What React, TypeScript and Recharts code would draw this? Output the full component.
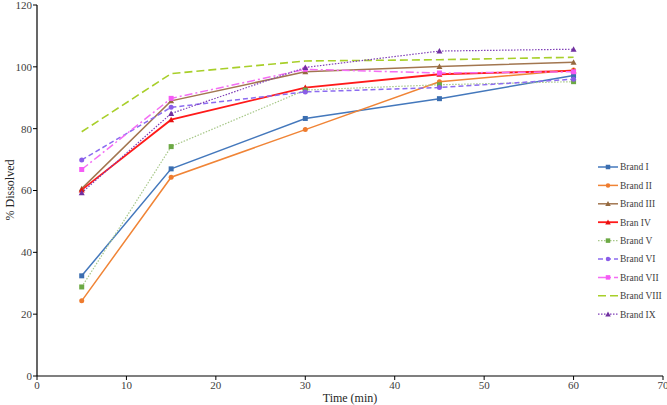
import React from 'react';
import { LineChart, Line, XAxis, YAxis, Legend, Label } from 'recharts';

const times = [5, 15, 30, 45, 60];
const brandI = [32.4, 67.0, 83.3, 89.7, 97.2];
const brandII = [24.3, 64.3, 79.7, 95.2, 99.0];
const brandIII = [60.6, 89.0, 98.4, 100.1, 101.5];
const brandIV = [60.2, 82.9, 93.3, 97.6, 98.7];
const brandV = [28.8, 74.2, 92.5, 94.2, 95.2];
const brandVI = [69.9, 86.9, 91.9, 93.3, 96.0];
const brandVII = [66.8, 89.8, 99.2, 98.0, 98.4];
const brandVIII = [79.0, 97.8, 101.9, 102.3, 103.1];
const brandIX = [59.3, 84.9, 99.8, 105.1, 105.7];

const xTicks = [0, 10, 20, 30, 40, 50, 60, 70];
const yTicks = [0, 20, 40, 60, 80, 100, 120];

const FONT = '"Liberation Serif", "Times New Roman", serif';

type Shape = 'square' | 'circle' | 'triangle' | 'none';
interface Series {
  key: string;
  name: string;
  values: number[];
  color: string;
  markerColor: string;
  dash?: string;
  width: number;
  marker: Shape;
}

const series: Series[] = [
  { key: 'I', name: 'Brand I', values: brandI, color: '#4478BC', markerColor: '#3B6EB0', width: 1.5, marker: 'square' },
  { key: 'II', name: 'Brand II', values: brandII, color: '#F08436', markerColor: '#EE7B2E', width: 1.5, marker: 'circle' },
  { key: 'III', name: 'Brand III', values: brandIII, color: '#A27650', markerColor: '#94693F', width: 1.5, marker: 'triangle' },
  { key: 'IV', name: 'Bran IV', values: brandIV, color: '#FF1A1A', markerColor: '#E81010', width: 1.8, marker: 'triangle' },
  { key: 'V', name: 'Brand V', values: brandV, color: '#A8C88A', markerColor: '#6CA944', dash: '1.5 1.5', width: 1.2, marker: 'square' },
  { key: 'VI', name: 'Brand VI', values: brandVI, color: '#8C6CF0', markerColor: '#8A5CE8', dash: '5 3', width: 1.5, marker: 'circle' },
  { key: 'VII', name: 'Brand VII', values: brandVII, color: '#F46EF4', markerColor: '#F55AF5', dash: '8 3 2 3', width: 1.5, marker: 'square' },
  { key: 'VIII', name: 'Brand VIII', values: brandVIII, color: '#A8CF2A', markerColor: '#A8CF2A', dash: '8 4', width: 1.6, marker: 'none' },
  { key: 'IX', name: 'Brand IX', values: brandIX, color: '#8040B8', markerColor: '#7030A0', dash: '1.5 1.5', width: 1.2, marker: 'triangle' },
];

const data = times.map((t, i) => {
  const row: Record<string, number> = { t };
  series.forEach((s) => {
    row[s.key] = s.values[i];
  });
  return row;
});

function drawMarker(shape: Shape, color: string, cx: number, cy: number, key: string, size = 5) {
  const h = size / 2;
  if (shape === 'square') {
    return <rect key={key} x={cx - h} y={cy - h} width={size} height={size} fill={color} stroke="none" />;
  }
  if (shape === 'circle') {
    return <circle key={key} cx={cx} cy={cy} r={h} fill={color} stroke="none" />;
  }
  if (shape === 'triangle') {
    return (
      <polygon
        key={key}
        points={`${cx},${cy - h - 0.5} ${cx - h - 0.5},${cy + h} ${cx + h + 0.5},${cy + h}`}
        fill={color}
        stroke="none"
      />
    );
  }
  return <g key={key} />;
}

function makeDot(s: Series) {
  return (props: any) => {
    const { cx, cy, index } = props;
    if (cx == null || cy == null) return <g key={`${s.key}-${index}`} />;
    return drawMarker(s.marker, s.markerColor, cx, cy, `${s.key}-${index}`);
  };
}

function LegendContent() {
  const rowH = 18.4;
  return (
    <svg width={70} height={170} style={{ overflow: 'visible' }}>
      {series.map((s, i) => {
        const y = 9 + i * rowH;
        return (
          <g key={s.key}>
            <line x1={2} x2={22} y1={y} y2={y} stroke={s.color} strokeWidth={s.width} strokeDasharray={s.dash} />
            {drawMarker(s.marker, s.markerColor, 12, y, `lg-${s.key}`, 4.5)}
            <text x={24} y={y} dy="0.35em" fontSize={9.5} fontFamily={FONT} fill="#404040">
              {s.name}
            </text>
          </g>
        );
      })}
    </svg>
  );
}

export default function App() {
  return (
    <div style={{ position: 'absolute', left: 0, top: 0, width: 667, height: 405, background: '#fff' }}>
      <LineChart width={667} height={405} data={data} margin={{ top: 5, right: 4, bottom: 0, left: 0 }}>
        <XAxis
          dataKey="t"
          type="number"
          domain={[0, 70]}
          ticks={xTicks}
          interval={0}
          height={29}
          tickSize={4}
          tickMargin={1}
          axisLine={{ stroke: '#000', strokeWidth: 1.2 }}
          tickLine={{ stroke: '#000' }}
          tick={{ fontSize: 11, fontFamily: FONT, fill: '#404040' }}
        >
          <Label
            content={() => (
              <text x={350} y={402} textAnchor="middle" fontSize={12} fontFamily={FONT} fill="#262626">
                Time  (min)
              </text>
            )}
          />
        </XAxis>
        <YAxis
          type="number"
          domain={[0, 120]}
          ticks={yTicks}
          interval={0}
          width={37}
          tickSize={4}
          tickMargin={1}
          axisLine={{ stroke: '#000', strokeWidth: 1.2 }}
          tickLine={{ stroke: '#000' }}
          tick={{ fontSize: 11, fontFamily: FONT, fill: '#404040' }}
        >
          <Label
            content={() => (
              <text
                x={10}
                y={190}
                transform="rotate(-90, 10, 190)"
                textAnchor="middle"
                dominantBaseline="central"
                fontSize={12}
                fontFamily={FONT}
                fill="#262626"
              >
                % Dissolved
              </text>
            )}
          />
        </YAxis>
        <Legend
          layout="horizontal"
          verticalAlign="middle"
          align="center"
          content={() => <LegendContent />}
          wrapperStyle={{ position: 'absolute', left: 596, top: 158, width: 70, height: 170 }}
        />
        {series.map((s) => (
          <Line
            key={s.key}
            type="linear"
            dataKey={s.key}
            name={s.name}
            stroke={s.color}
            strokeWidth={s.width}
            strokeDasharray={s.dash}
            dot={makeDot(s)}
            activeDot={false}
            isAnimationActive={false}
          />
        ))}
      </LineChart>
    </div>
  );
}
